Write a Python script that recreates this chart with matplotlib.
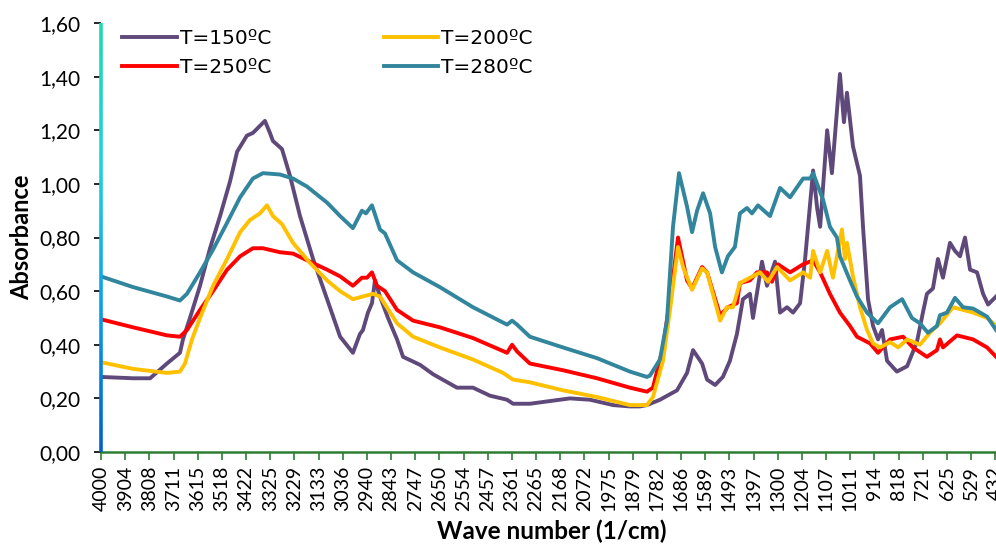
import numpy as np
import matplotlib
matplotlib.use("Agg")
import matplotlib.pyplot as plt
from matplotlib.collections import LineCollection
from matplotlib.colors import LinearSegmentedColormap

plt.rcParams['font.family'] = ['Lato', 'DejaVu Sans']

# T=150ºC
wn_150 = [4000, 3872, 3804, 3737, 3685, 3673, 3645, 3605, 3565, 3525, 3485, 3457, 3418, 3394,
          3346, 3326, 3314, 3278, 3246, 3206, 3154, 3098, 3046, 2995, 2967, 2955, 2935, 2919,
          2907, 2887, 2855, 2819, 2795, 2727, 2675, 2580, 2516, 2448, 2380, 2356, 2289, 2209,
          2129, 2049, 1957, 1890, 1850, 1822, 1770, 1702, 1662, 1638, 1602, 1582, 1550, 1519,
          1491, 1463, 1439, 1411, 1399, 1363, 1343, 1311, 1291, 1263, 1239, 1211, 1191, 1159,
          1143, 1131, 1103, 1084, 1052, 1036, 1024, 1000, 972, 960, 940, 920, 900, 884, 864,
          825, 784, 745, 721, 705, 681, 661, 641, 613, 593, 573, 553, 533, 505, 481, 461, 429]
ab_150 = [0.28, 0.275, 0.275, 0.33, 0.37, 0.42, 0.50, 0.62, 0.76, 0.88, 1.01, 1.12, 1.18, 1.19,
          1.235, 1.19, 1.16, 1.13, 1.03, 0.88, 0.72, 0.57, 0.43, 0.37, 0.44, 0.455, 0.52, 0.555,
          0.64, 0.58, 0.50, 0.42, 0.355, 0.325, 0.29, 0.24, 0.24, 0.21, 0.195, 0.18, 0.18, 0.19,
          0.20, 0.195, 0.175, 0.17, 0.17, 0.175, 0.195, 0.23, 0.295, 0.38, 0.33, 0.27, 0.25, 0.28,
          0.34, 0.44, 0.57, 0.59, 0.50, 0.71, 0.62, 0.71, 0.52, 0.54, 0.52, 0.555, 0.72, 1.05,
          0.91, 0.84, 1.20, 1.04, 1.41, 1.23, 1.34, 1.14, 1.03, 0.84, 0.57, 0.47, 0.42, 0.455, 0.34,
          0.30, 0.32, 0.41, 0.52, 0.59, 0.61, 0.72, 0.65, 0.78, 0.75, 0.73, 0.80, 0.68, 0.67, 0.59, 0.55, 0.58]

# T=200ºC
wn_200 = [4000, 3872, 3737, 3685, 3665, 3637, 3605, 3553, 3497, 3445, 3406, 3366, 3338, 3314,
          3278, 3234, 3166, 3098, 3046, 2995, 2955, 2915, 2887, 2819, 2755, 2648, 2516, 2396,
          2356, 2289, 2157, 2021, 1890, 1822, 1798, 1758, 1730, 1698, 1678, 1642, 1602, 1582,
          1530, 1503, 1479, 1451, 1411, 1371, 1339, 1303, 1251, 1199, 1171, 1159, 1131, 1103,
          1080, 1044, 1032, 1024, 1000, 972, 944, 920, 892, 852, 820, 784, 733, 693, 653, 601,
          561, 521, 465, 429]
ab_200 = [0.335, 0.31, 0.295, 0.30, 0.33, 0.42, 0.50, 0.62, 0.72, 0.82, 0.865, 0.89, 0.92, 0.88,
          0.85, 0.78, 0.705, 0.64, 0.60, 0.57, 0.58, 0.59, 0.58, 0.48, 0.43, 0.39, 0.345, 0.295,
          0.27, 0.26, 0.23, 0.205, 0.175, 0.175, 0.205, 0.34, 0.53, 0.765, 0.69, 0.605, 0.685, 0.67,
          0.49, 0.54, 0.54, 0.63, 0.65, 0.67, 0.635, 0.69, 0.64, 0.67, 0.65, 0.75, 0.67, 0.75,
          0.65, 0.83, 0.72, 0.78, 0.655, 0.54, 0.455, 0.405, 0.39, 0.41, 0.39, 0.42, 0.40, 0.445, 0.48, 0.54,
          0.53, 0.52, 0.50, 0.47]

# T=250ºC
wn_250 = [4000, 3872, 3737, 3685, 3657, 3605, 3553, 3497, 3445, 3394, 3354, 3286, 3234, 3178,
          3098, 3046, 2995, 2959, 2939, 2919, 2899, 2867, 2819, 2755, 2648, 2516, 2380, 2360,
          2340, 2289, 2157, 2021, 1890, 1822, 1798, 1758, 1718, 1698, 1662, 1642, 1602, 1582,
          1530, 1499, 1463, 1451, 1411, 1383, 1343, 1323, 1299, 1251, 1199, 1159, 1131, 1092,
          1052, 1012, 984, 932, 900, 852, 800, 761, 705, 665, 653, 641, 585, 521, 465, 429]
ab_250 = [0.495, 0.465, 0.435, 0.43, 0.455, 0.53, 0.60, 0.68, 0.73, 0.76, 0.76, 0.745, 0.74, 0.715,
          0.68, 0.655, 0.62, 0.65, 0.65, 0.67, 0.62, 0.60, 0.53, 0.49, 0.465, 0.425, 0.37, 0.40,
          0.375, 0.33, 0.305, 0.275, 0.24, 0.225, 0.24, 0.39, 0.65, 0.80, 0.64, 0.61, 0.69, 0.67,
          0.51, 0.54, 0.555, 0.63, 0.64, 0.67, 0.67, 0.635, 0.70, 0.67, 0.70, 0.715, 0.67, 0.59,
          0.52, 0.47, 0.43, 0.405, 0.37, 0.42, 0.43, 0.39, 0.355, 0.38, 0.42, 0.39, 0.435, 0.42, 0.39, 0.355]

# T=280ºC
wn_280 = [4000, 3872, 3737, 3685, 3657, 3605, 3553, 3497, 3445, 3394, 3354, 3286, 3234, 3178,
          3098, 3046, 2995, 2959, 2943, 2919, 2887, 2867, 2819, 2755, 2648, 2516, 2380, 2360,
          2340, 2289, 2157, 2021, 1890, 1822, 1810, 1770, 1742, 1718, 1694, 1662, 1642, 1622,
          1598, 1570, 1550, 1523, 1499, 1471, 1451, 1423, 1403, 1379, 1331, 1291, 1251, 1199,
          1171, 1159, 1119, 1092, 1064, 1052, 1012, 984, 944, 900, 852, 804, 765, 733, 701, 665,
          653, 625, 593, 561, 521, 465, 429]
ab_280 = [0.655, 0.615, 0.58, 0.565, 0.59, 0.67, 0.755, 0.855, 0.95, 1.02, 1.04, 1.035, 1.02, 0.99,
          0.93, 0.88, 0.835, 0.90, 0.89, 0.92, 0.83, 0.815, 0.715, 0.67, 0.615, 0.54, 0.475, 0.49,
          0.475, 0.43, 0.39, 0.35, 0.30, 0.28, 0.285, 0.345, 0.49, 0.84, 1.04, 0.915, 0.82, 0.90,
          0.965, 0.89, 0.765, 0.67, 0.73, 0.765, 0.89, 0.91, 0.89, 0.92, 0.88, 0.985, 0.95, 1.02,
          1.02, 1.04, 0.94, 0.84, 0.80, 0.73, 0.64, 0.58, 0.52, 0.48, 0.54, 0.57, 0.50, 0.48, 0.445, 0.47,
          0.51, 0.52, 0.575, 0.54, 0.535, 0.505, 0.455]

tick_labels = ['4000', '3904', '3808', '3711', '3615', '3518', '3422', '3325', '3229', '3133',
               '3036', '2940', '2843', '2747', '2650', '2554', '2457', '2361', '2265', '2168',
               '2072', '1975', '1879', '1782', '1686', '1589', '1493', '1397', '1300', '1204',
               '1107', '1011', '914', '818', '721', '625', '529', '432']
tick_pos = 4000 - np.arange(len(tick_labels)) * 3568 / 37

fig = plt.figure(figsize=(9.96, 5.44), dpi=100)
ax = fig.add_axes([0.1014, 0.1691, 0.906, 0.7886])

lw = 2.8
ax.plot(wn_150, ab_150, color='#5F497A', lw=lw, label='T=150ºC')
ax.plot(wn_250, ab_250, color='#FF0000', lw=lw, label='T=250ºC')
ax.plot(wn_200, ab_200, color='#FFC000', lw=lw, label='T=200ºC')
ax.plot(wn_280, ab_280, color='#31859C', lw=lw, label='T=280ºC')

ax.set_xlim(4000, 400)
ax.set_ylim(0, 1.6)
ax.set_xticks(tick_pos)
ax.set_xticklabels(tick_labels, rotation=90, fontsize=14)
yt = np.arange(0, 1.61, 0.2)
ax.set_yticks(yt)
ax.set_yticklabels([f'{v:.2f}'.replace('.', ',') for v in yt], fontsize=15)

for s in ['top', 'right', 'left']:
    ax.spines[s].set_visible(False)
ax.spines['bottom'].set_color('#2E7D32')
ax.spines['bottom'].set_linewidth(1.8)
ax.tick_params(axis='x', colors='#2E7D32', length=6, width=1.2, labelcolor='black', pad=4)
ax.tick_params(axis='y', length=5, width=1.2, labelcolor='black', pad=10)

# gradient left spine
cmap = LinearSegmentedColormap.from_list('spine', ['#0060C8', '#0A9EE8', '#22D0E0', '#1ED8B0'])
yy = np.linspace(0, 1, 200)
segs = [[(0, yy[i]), (0, yy[i + 1])] for i in range(len(yy) - 1)]
lc = LineCollection(segs, colors=cmap(yy[:-1]), linewidths=2.6,
                    transform=ax.transAxes, clip_on=False, zorder=5)
ax.add_collection(lc)
for t, v in zip(ax.yaxis.get_major_ticks(), yt):
    t.tick1line.set_color(cmap(v / 1.6))

ax.set_xlabel('Wave number (1/cm)', fontsize=17.5, fontweight='bold', labelpad=6)
ax.set_ylabel('Absorbance', fontsize=17, fontweight='bold', labelpad=4)

ax.legend(ncol=2, loc='upper left', bbox_to_anchor=(0.008, 1.018), frameon=False,
          prop={'family': ['DejaVu Sans'], 'size': 14.5},
          handlelength=2.7, handletextpad=0.15, columnspacing=5.6,
          labelspacing=0.5, borderpad=0.2)

fig.savefig('out.png', dpi=100)
